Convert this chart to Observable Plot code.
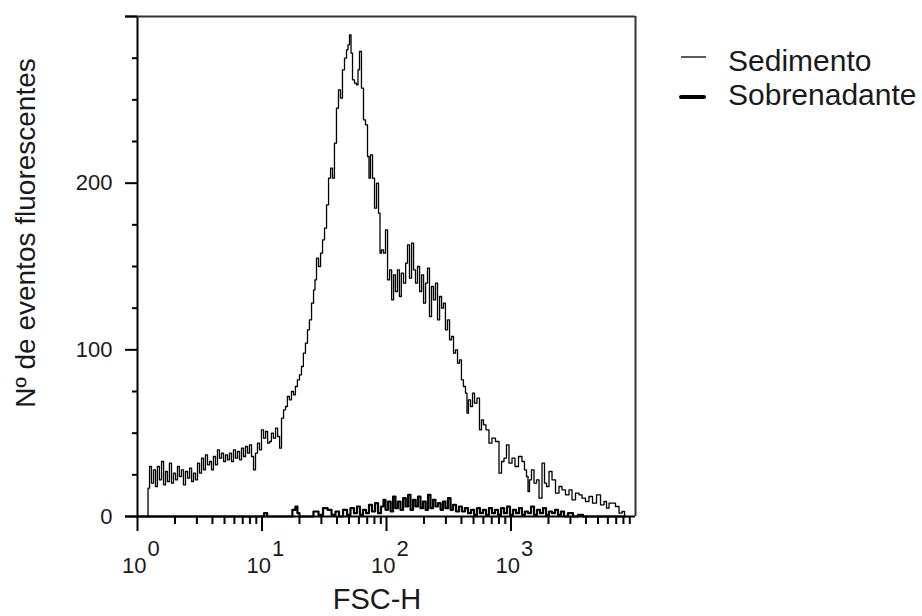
<!DOCTYPE html>
<html><head><meta charset="utf-8">
<script src="https://cdn.jsdelivr.net/npm/d3@7"></script>
<script src="https://cdn.jsdelivr.net/npm/@observablehq/plot@0.6"></script>
<style>body{margin:0;background:#fff}</style>
</head><body><div id="chart"></div>
<script>
// Sedimento histogram (FSC-H value, count)
const sedX = [
 1.20,1.23,1.27,1.32,1.37,1.42,1.47,1.53,1.59,1.65,
 1.71,1.77,1.84,1.91,1.98,2.06,2.13,2.21,2.30,2.38,
 2.48,2.57,2.67,2.77,2.87,2.98,3.09,3.21,3.33,3.45,
 3.58,3.72,3.86,4.00,4.15,4.31,4.47,4.64,4.82,5.00,
 5.19,5.38,5.58,5.79,6.01,6.24,6.47,6.72,6.97,7.23,
 7.51,7.79,8.08,8.39,8.71,9.03,9.37,9.72,10.1,10.5,
 10.9,11.3,11.7,12.1,12.6,13.1,13.6,14.1,14.6,15.2,
 15.7,16.3,16.9,17.6,18.2,18.9,19.6,20.4,21.1,21.9,
 22.8,23.6,24.5,25.5,26.4,26.9,27.9,29.0,30.1,31.2,
 32.4,33.6,34.9,36.2,37.5,38.9,40.4,41.9,43.5,45.1,
 46.9,48.6,49.5,51.4,52.4,54.3,56.4,58.5,59.6,61.8,
 64.1,66.6,69.1,71.7,73.0,75.8,78.7,81.6,84.7,87.9,
 89.5,92.9,96.4,100,104,108,112,116,120,125,
 129,134,140,145,150,156,162,168,174,181,
 188,195,202,210,217,226,234,243,252,262,
 272,282,292,303,315,327,339,352,365,379,
 393,407,423,439,447,464,482,500,519,548,
 569,590,612,647,684,723,779,824,855,903,
 937,991,1047,1107,1192,1259,1307,1357,1382,1434,
 1488,1574,1633,1727,1824,1893,1964,2077,2195,2362,
 2498,2640,2843,3006,3177,3422,3617,3822,4115,4351,
 4686,5046,5433,5742,5961,6300,6658,7169,7586,8017,
 8318
];
const sedY = [
 0,17,30,20,28,18,30,22,33,19,
 27,21,32,20,26,22,30,24,28,19,
 27,23,29,21,26,22,32,26,35,28,
 37,31,33,28,36,31,40,35,38,33,
 37,34,38,33,40,35,39,34,41,36,
 42,38,43,36,28,38,44,40,52,47,
 51,44,45,50,47,53,48,41,59,64,
 66,72,70,75,73,78,82,85,90,98,
 104,112,118,128,136,142,155,150,158,166,
 173,187,203,209,203,224,245,256,251,268,
 275,280,283,289,278,262,260,259,268,279,
 257,238,235,216,203,217,203,185,200,182,
 158,160,158,172,142,148,130,145,135,148,
 132,146,140,152,163,143,164,148,140,150,
 135,145,128,140,149,120,138,130,140,118,
 132,125,128,112,118,106,108,98,100,92,
 94,82,78,74,62,70,66,74,68,71,
 52,58,55,52,44,47,45,26,33,35,
 43,32,35,30,36,33,28,24,15,22,
 28,20,22,11,32,20,18,27,22,14,
 18,16,13,16,10,14,13,11,9,12,
 8,13,7,9,5,8,8,6,2,3,
 0
];
// Sobrenadante histogram (FSC-H value, count)
const sobX = [
 1.00,1.27,3.21,10.1,10.7,11.3,16.9,18.2,18.9,19.6,
 20.4,24.5,27.4,29.5,32.4,34.9,37.5,40.4,42.7,46.9,
 49.5,53.3,56.4,59.6,63.0,66.6,70.4,74.3,78.7,83.2,
 87.9,92.9,96.4,100,106,110,116,120,127,132,
 140,145,153,159,168,174,184,191,202,210,
 221,230,243,252,267,277,292,303,321,333,
 352,372,393,415,439,464,491,519,548,579,
 612,647,684,723,765,809,855,903,955,1009,
 1067,1127,1192,1259,1331,1409,1488,1574,1663,1758,
 1858,1964,2077,2195,2320,2455,2594,2742,3006,3296,
 3617,3963,5236,8318
];
const sobY = [
 0,0,0,0,2,0,0,4,6,2,
 0,0,3,1,5,4,1,3,0,4,
 1,5,2,6,1,4,2,7,3,8,
 2,6,10,4,9,3,12,5,9,4,
 11,6,13,4,10,6,12,5,9,4,
 13,5,10,6,8,4,9,5,11,4,
 7,3,6,3,5,2,4,1,5,2,
 4,1,5,2,4,1,5,2,6,1,
 4,2,5,1,3,2,6,1,4,2,
 5,1,3,2,4,1,3,0,2,0,
 1,0,0,0
];
const seriesNames = ["Sedimento", "Sobrenadante"];
const xMajor = [1, 10, 100, 1000];
const xExponents = ["0", "1", "2", "3"];
const xMinor = [2,3,4,5,6,7,8,9,20,30,40,50,60,70,80,90,200,300,400,500,600,700,800,900,2000,3000,4000,5000,6000,7000,8000,9000];
const yMajor = [0, 100, 200, 300];
const yLabels = [0, 100, 200];
const yMinor = [25, 50, 75, 125, 150, 175, 225, 250, 275];
const xLabel = "FSC-H";
const yLabel = "Nº de eventos fluorescentes";

const sed = sedX.map((x, i) => ({x, y: sedY[i]}));
const sob = sobX.map((x, i) => ({x, y: sobY[i]}));

const FONT = "'Liberation Sans', Arial, sans-serif";
const INK = "#1a1a1a";
const W = 922, H = 616, ML = 137, MR = 287, MT = 16, MB = 100;

const chart = Plot.plot({
  width: W, height: H,
  marginLeft: ML, marginRight: MR, marginTop: MT, marginBottom: MB,
  style: {fontFamily: FONT, background: "#fff", overflow: "visible", color: INK},
  x: {type: "log", domain: [1, 10000], axis: null},
  y: {domain: [0, 300], axis: null},
  marks: [
    Plot.line(sob, {x: "x", y: "y", curve: "step", stroke: "#000", strokeWidth: 2.2}),
    Plot.line(sed, {x: "x", y: "y", curve: "step", stroke: "#000", strokeWidth: 1.3}),
    Plot.ruleX([1], {stroke: "#000", strokeWidth: 2}),
    Plot.ruleX([10000], {stroke: "#333", strokeWidth: 2}),
    Plot.ruleY([0], {stroke: "#000", strokeWidth: 2, insetLeft: -12}),
    Plot.ruleY([300], {stroke: "#333", strokeWidth: 2, insetLeft: -12}),
    Plot.ruleY(yMajor, {x1: 1, x2: 1, insetLeft: -12, stroke: "#000", strokeWidth: 2}),
    Plot.ruleY(yMinor, {x1: 1, x2: 1, insetLeft: -5, stroke: "#000", strokeWidth: 2}),
    Plot.ruleX(xMajor, {y1: 0, y2: 0, insetBottom: -15, stroke: "#000", strokeWidth: 2}),
    Plot.ruleX(xMinor, {y1: 0, y2: 0, insetBottom: -8, stroke: "#000", strokeWidth: 2}),
    Plot.text(yLabels, {y: d => d, text: d => String(d), frameAnchor: "left", textAnchor: "end", dx: -25, fontSize: 22, fill: INK}),
    Plot.text(xMajor, {x: d => d, text: () => "10", frameAnchor: "bottom", textAnchor: "end", lineAnchor: "bottom", dx: 9, dy: 56, fontSize: 22, fill: INK}),
    Plot.text(xMajor, {x: d => d, text: (d, i) => xExponents[i], frameAnchor: "bottom", textAnchor: "start", lineAnchor: "bottom", dx: 10, dy: 39, fontSize: 22, fill: INK})
  ]
});

const svg = d3.select(chart);
svg.append("text")
  .attr("transform", "translate(35,233) rotate(-90)")
  .attr("text-anchor", "middle").attr("font-size", 28).attr("fill", INK)
  .text(yLabel);
svg.append("text")
  .attr("x", 377).attr("y", 609)
  .attr("text-anchor", "middle").attr("font-size", 29).attr("fill", INK)
  .text(xLabel);
// legend
const lg = svg.append("g").attr("text-anchor", "start");
lg.append("line").attr("x1", 681).attr("x2", 706).attr("y1", 57).attr("y2", 57).attr("stroke", "#000").attr("stroke-width", 1.3);
lg.append("line").attr("x1", 681).attr("x2", 704).attr("y1", 97).attr("y2", 97).attr("stroke", "#000").attr("stroke-width", 4).attr("stroke-linecap", "round");
lg.append("text").attr("x", 728).attr("y", 71).attr("text-anchor", "start").attr("font-size", 30).attr("fill", INK).text(seriesNames[0]);
lg.append("text").attr("x", 728).attr("y", 105).attr("text-anchor", "start").attr("font-size", 30).attr("fill", INK).text(seriesNames[1]);

document.getElementById("chart").appendChild(chart);
</script>
</body></html>
